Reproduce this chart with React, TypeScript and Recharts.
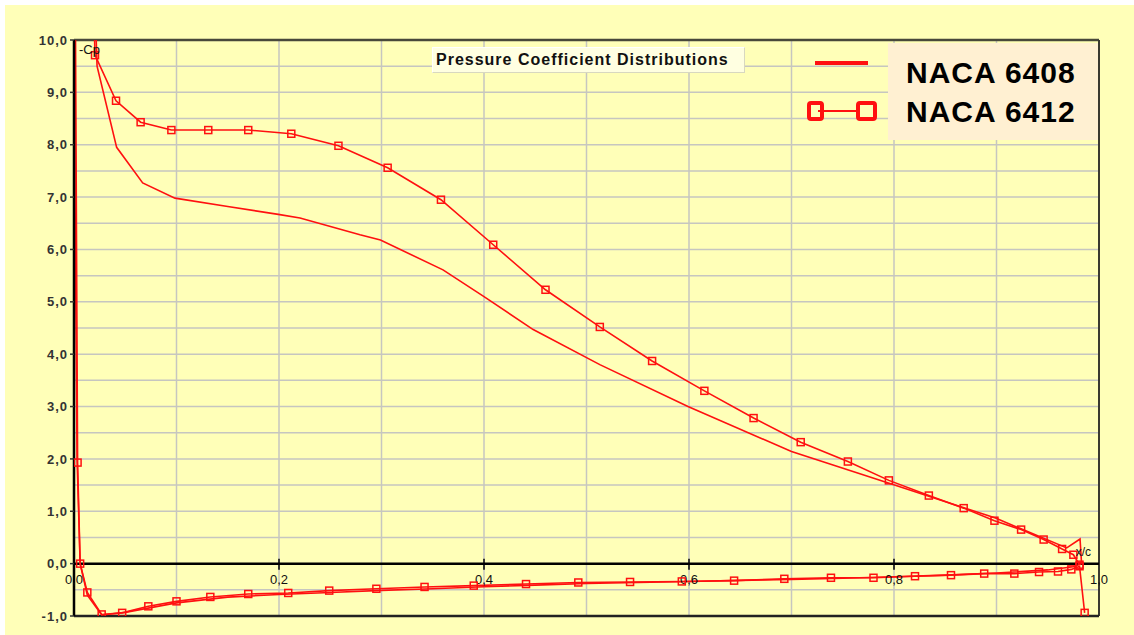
import React from "react";
import {
  ComposedChart,
  Line,
  XAxis,
  YAxis,
  CartesianGrid,
  ReferenceLine,
  ReferenceDot,
  Legend,
} from "recharts";

// NACA 6412, -Cp along the chord (upper surface, nose -> trailing edge)
const x6412Upper = [0.001, 0.019, 0.0205, 0.041, 0.065, 0.095, 0.131, 0.17, 0.212, 0.258, 0.306, 0.358, 0.409, 0.46, 0.513, 0.564, 0.615, 0.663, 0.709, 0.755, 0.795, 0.834, 0.868, 0.898, 0.924, 0.946, 0.964, 0.975, 0.981];
const cp6412Upper = [12, 10.8, 9.71, 8.84, 8.43, 8.28, 8.28, 8.28, 8.21, 7.98, 7.56, 6.95, 6.09, 5.23, 4.52, 3.87, 3.3, 2.78, 2.32, 1.95, 1.59, 1.3, 1.06, 0.82, 0.65, 0.46, 0.28, 0.17, -0.02];
// NACA 6412 lower surface, nose -> trailing edge
const x6412Lower = [0.0035, 0.006, 0.013, 0.027, 0.047, 0.0725, 0.1, 0.133, 0.17, 0.209, 0.249, 0.295, 0.342, 0.39, 0.441, 0.492, 0.5425, 0.593, 0.644, 0.693, 0.7385, 0.78, 0.8205, 0.8556, 0.888, 0.9174, 0.9415, 0.96, 0.973, 0.981, 0.986];
const cp6412Lower = [1.93, 0.0, -0.55, -0.97, -0.94, -0.815, -0.72, -0.636, -0.58, -0.56, -0.515, -0.48, -0.445, -0.42, -0.39, -0.36, -0.35, -0.34, -0.325, -0.29, -0.27, -0.27, -0.24, -0.22, -0.19, -0.19, -0.16, -0.15, -0.11, -0.05, -0.94];

// NACA 6408
const x6408Upper = [0.0, 0.021, 0.0225, 0.0416, 0.067, 0.0985, 0.15, 0.1993, 0.2205, 0.279, 0.299, 0.36, 0.4, 0.448, 0.513, 0.599, 0.7, 0.799, 0.899, 0.9685, 0.9815, 0.983];
const cp6408Upper = [12, 10.4, 9.5, 7.95, 7.27, 6.98, 6.82, 6.67, 6.6, 6.28, 6.18, 5.61, 5.1, 4.47, 3.8, 3.0, 2.14, 1.51, 0.87, 0.3, 0.47, 0.0];
const x6408Lower = [0.001, 0.003, 0.006, 0.013, 0.027, 0.05, 0.1, 0.15, 0.2, 0.25, 0.3, 0.35, 0.4, 0.45, 0.5, 0.55, 0.6, 0.65, 0.7, 0.75, 0.8, 0.85, 0.9, 0.95, 0.975, 0.983];
const cp6408Lower = [7.0, 2.0, 0.0, -0.6, -0.98, -0.93, -0.75, -0.64, -0.59, -0.55, -0.51, -0.48, -0.44, -0.41, -0.38, -0.36, -0.34, -0.32, -0.3, -0.28, -0.25, -0.22, -0.18, -0.12, -0.06, 0.0];

const yTicks = [-1, 0, 1, 2, 3, 4, 5, 6, 7, 8, 9, 10];
const xTicks = [0, 0.2, 0.4, 0.6, 0.8, 1.0];
const gridX = [0.1, 0.2, 0.3, 0.4, 0.5, 0.6, 0.7, 0.8, 0.9];
const gridY = [-0.5, 0.5, 1, 1.5, 2, 2.5, 3, 3.5, 4, 4.5, 5, 5.5, 6, 6.5, 7, 7.5, 8, 8.5, 9, 9.5];

const RED = "#ff1010";
const FONT = '"Liberation Sans", Arial, sans-serif';

const fmt = (v: number) => v.toFixed(1).replace(".", ",");

// trailing edge -> lower surface -> nose -> upper surface -> trailing edge
function contour(xu: number[], cpu: number[], xl: number[], cpl: number[]) {
  const lower = xl.map((x, i) => ({ x, cp: cpl[i] })).reverse();
  const upper = xu.map((x, i) => ({ x, cp: cpu[i] }));
  return [...lower, ...upper];
}

const path6408 = contour(x6408Upper, cp6408Upper, x6408Lower, cp6408Lower);
const path6412 = contour(x6412Upper, cp6412Upper, x6412Lower, cp6412Lower);

const SquareDot = (props: any) => {
  const { cx, cy, index } = props;
  if (cx == null || cy == null) return <g key={index} />;
  return (
    <rect
      key={index}
      x={cx - 3.5}
      y={cy - 3.5}
      width={7}
      height={7}
      fill="none"
      stroke={RED}
      strokeWidth={1.5}
    />
  );
};

// tick mark + label sitting on the zero line
const zeroTick = (label: string, mark: boolean) => (p: any) => (
  <g>
    {mark && (
      <line x1={p.cx} x2={p.cx} y1={p.cy - 5} y2={p.cy + 6} stroke="#000" strokeWidth={1.5} />
    )}
    <text
      x={p.cx}
      y={p.cy + 20}
      textAnchor="middle"
      fontSize={13}
      fontFamily={FONT}
      fill="#111"
    >
      {label}
    </text>
  </g>
);

function LegendBox({ payload }: any) {
  const items = [...(payload || [])].sort((a: any, b: any) =>
    String(a.value).localeCompare(String(b.value))
  );
  return (
    <div style={{ position: "relative", width: 318, height: 97, fontFamily: FONT }}>
      <svg width={108} height={97} style={{ position: "absolute", left: 0, top: 0 }}>
        <line x1={35} x2={88} y1={20} y2={20} stroke={RED} strokeWidth={4} />
        <line x1={38} x2={80} y1={68} y2={68} stroke={RED} strokeWidth={2} />
        <rect x={29} y={60} width={13} height={16} fill="none" stroke={RED} strokeWidth={4} rx={2} />
        <rect x={78} y={60} width={17} height={16} fill="none" stroke={RED} strokeWidth={4} rx={2} />
      </svg>
      <div
        style={{
          position: "absolute",
          left: 108,
          top: 0,
          width: 210,
          height: 97,
          background: "#fff0d2",
          boxSizing: "border-box",
          paddingTop: 10,
          paddingLeft: 18,
          fontSize: 30,
          lineHeight: "39px",
          fontWeight: "bold",
          letterSpacing: 1,
          color: "#000",
        }}
      >
        {items.map((it: any) => (
          <div key={it.value}>{it.value}</div>
        ))}
      </div>
    </div>
  );
}

export default function App() {
  return (
    <div
      style={{
        position: "absolute",
        left: 0,
        top: 0,
        width: 1134,
        height: 635,
        background: "#ffffff",
      }}
    >
      <div
        style={{
          position: "absolute",
          left: 5,
          top: 5,
          width: 1129,
          height: 630,
          background: "#ffffb8",
        }}
      >
        <ComposedChart
          width={1129}
          height={630}
          margin={{ top: 35, right: 35, bottom: 19, left: 9 }}
        >
          <CartesianGrid
            stroke="#c6c6c0"
            strokeWidth={1.5}
            verticalValues={gridX}
            horizontalValues={gridY}
          />
          <XAxis type="number" dataKey="x" domain={[0, 1]} allowDataOverflow hide />
          <YAxis
            type="number"
            dataKey="cp"
            domain={[-1, 10]}
            allowDataOverflow
            ticks={yTicks}
            interval={0}
            width={60}
            tickFormatter={fmt}
            tick={{ fontSize: 13, fontWeight: "bold", fill: "#333", fontFamily: FONT, letterSpacing: 1 }}
            tickLine={{ stroke: "#333", strokeWidth: 1.5 }}
            tickSize={4}
            tickMargin={2}
            axisLine={{ stroke: "#000", strokeWidth: 2.5 }}
          />
          <ReferenceLine
            y={10}
            stroke="#48483a"
            strokeWidth={2.5}
            label={{ value: "-Cp", position: "insideTopLeft", offset: 5, fontSize: 13, fill: "#111", fontFamily: FONT }}
          />
          <ReferenceLine x={1} stroke="#3a3a30" strokeWidth={2} />
          <ReferenceLine y={-1} stroke="#222" strokeWidth={2.5} />
          <ReferenceLine
            y={0}
            stroke="#000"
            strokeWidth={2.5}
            label={{ value: "x/c", position: "insideBottomRight", offset: 8, fontSize: 12, fill: "#111", fontFamily: FONT }}
          />
          {xTicks.map((v) => (
            <ReferenceDot
              key={v}
              x={v}
              y={0}
              r={0}
              shape={zeroTick(fmt(v), v > 0 && v < 1)}
            />
          ))}
          <Line
            data={path6408}
            dataKey="cp"
            name="NACA 6408"
            type="linear"
            stroke={RED}
            strokeWidth={1.6}
            dot={false}
            activeDot={false}
            isAnimationActive={false}
          />
          <Line
            data={path6412}
            dataKey="cp"
            name="NACA 6412"
            type="linear"
            stroke={RED}
            strokeWidth={1.6}
            dot={SquareDot}
            activeDot={false}
            isAnimationActive={false}
          />
          <Legend
            layout="vertical"
            align="center"
            verticalAlign="middle"
            content={<LegendBox />}
            wrapperStyle={{ position: "absolute", left: 775, top: 38, width: 318, height: 97 }}
          />
        </ComposedChart>
        <div
          style={{
            position: "absolute",
            left: 427,
            top: 42,
            width: 313,
            height: 26,
            boxSizing: "border-box",
            background: "#ffffe1",
            borderTop: "1px solid #ffffff",
            borderLeft: "1px solid #ffffff",
            borderRight: "1px solid #d8d8c0",
            borderBottom: "1px solid #d8d8c0",
            fontFamily: FONT,
            fontSize: 16,
            fontWeight: "bold",
            letterSpacing: 1,
            lineHeight: "24px",
            paddingLeft: 3,
            color: "#111",
            whiteSpace: "nowrap",
          }}
        >
          Pressure Coefficient Distributions
        </div>
      </div>
    </div>
  );
}
